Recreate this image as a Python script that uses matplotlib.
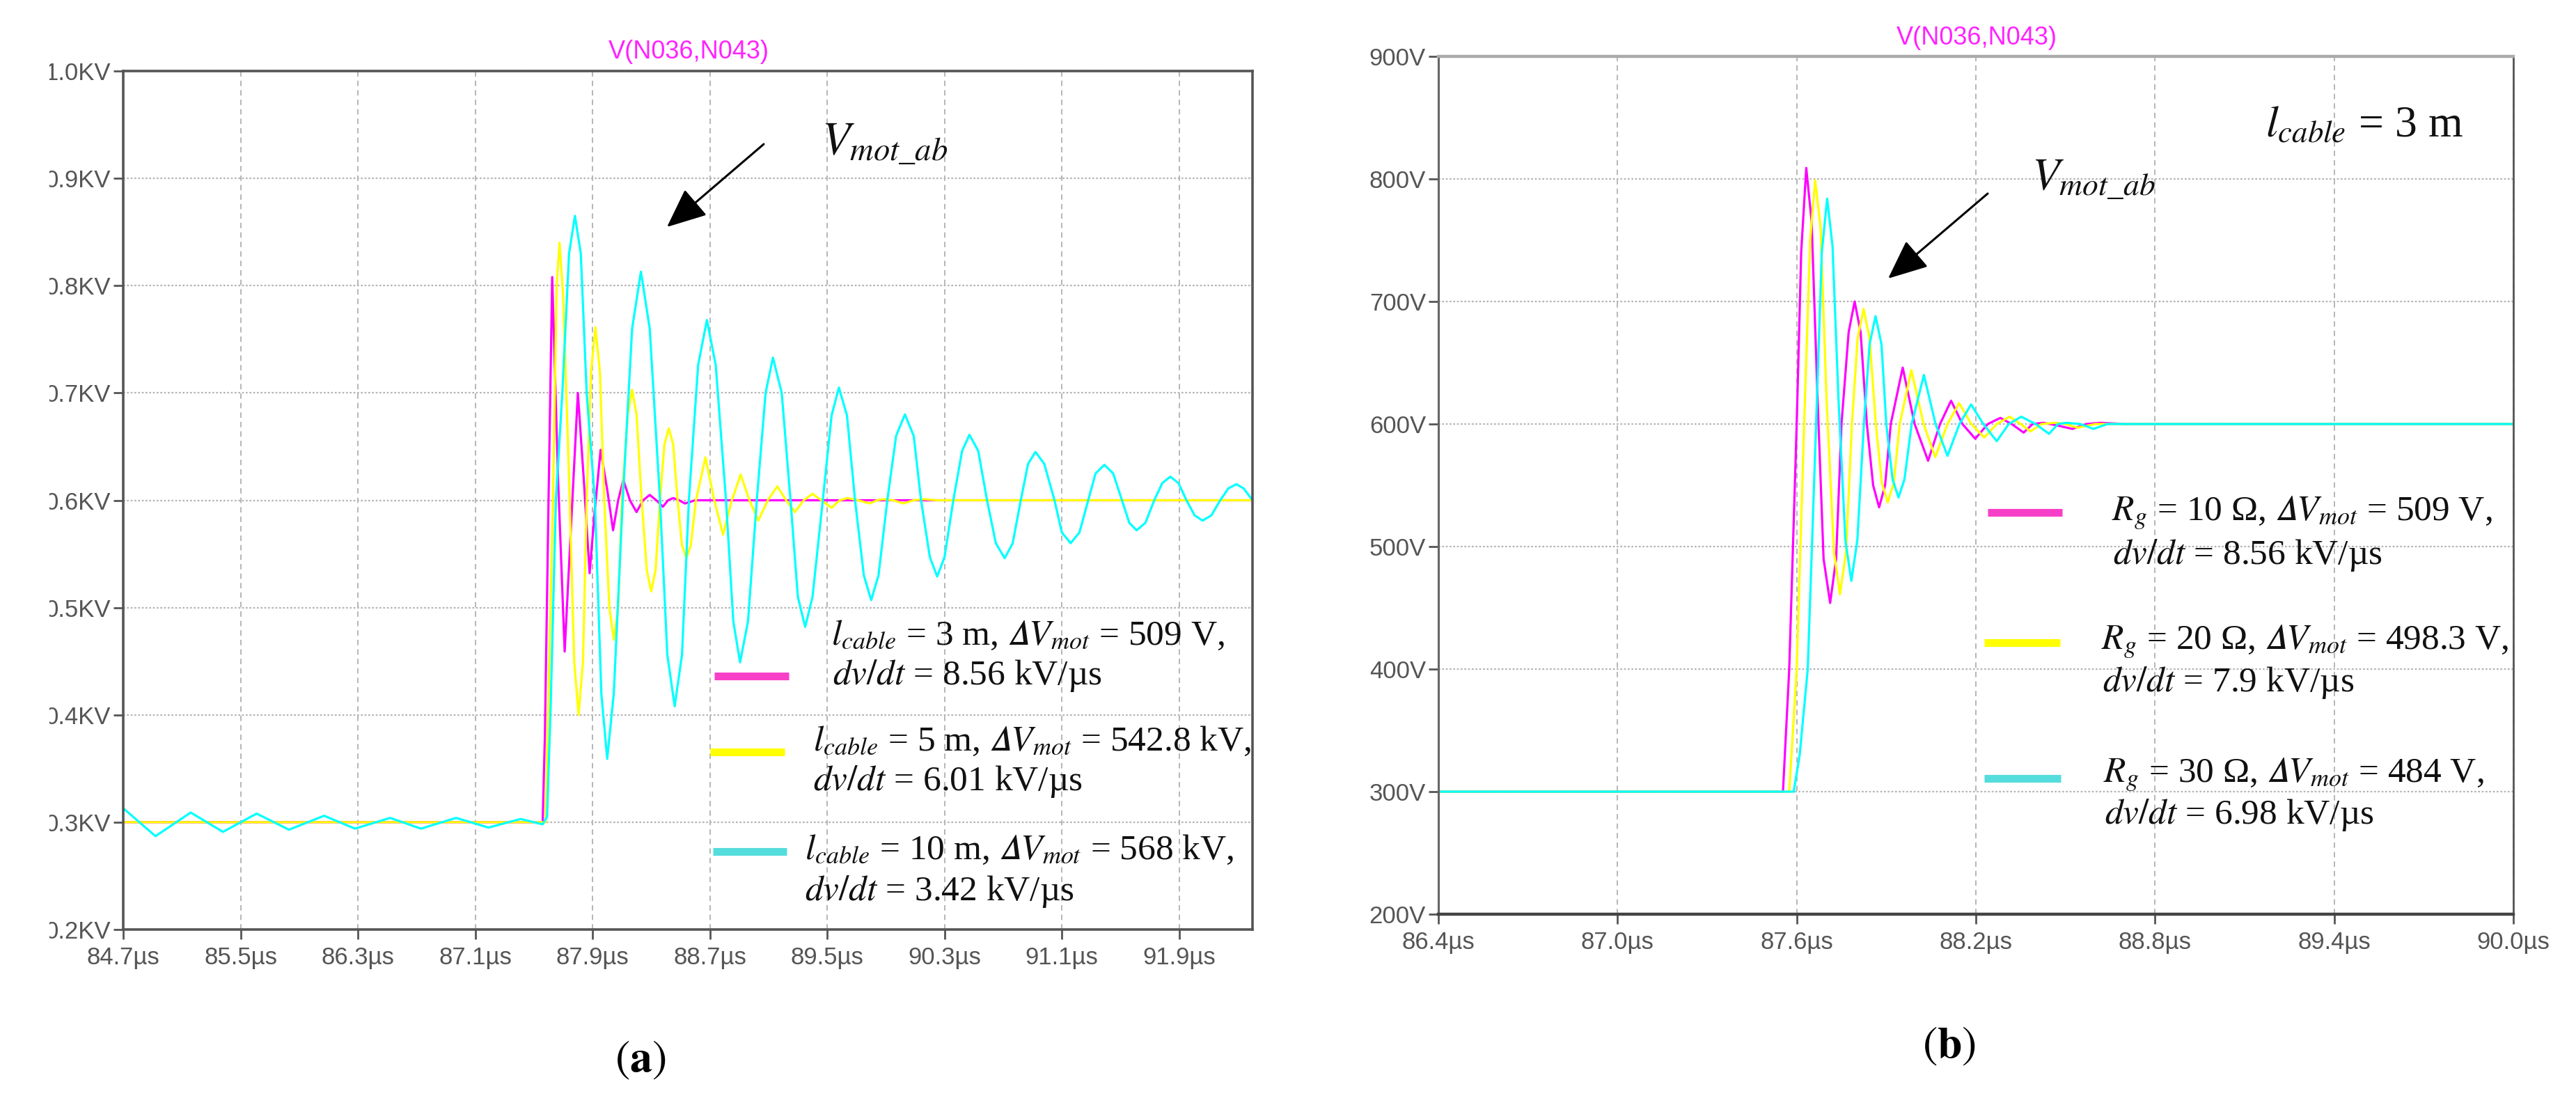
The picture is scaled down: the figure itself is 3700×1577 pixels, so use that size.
import matplotlib.pyplot as plt
from matplotlib.lines import Line2D
from matplotlib.transforms import Bbox

W, H = 3700, 1577

# ---------------- panel (a): cable length sweep (time in us, voltage in kV)
t_a_3m = [84.70, 87.56, 87.575, 87.60, 87.625, 87.665, 87.71, 87.755, 87.80, 87.84,
          87.88, 87.915, 87.955, 88.00, 88.04, 88.075, 88.11, 88.155, 88.20, 88.245,
          88.29, 88.335, 88.38, 88.415, 88.45, 88.49, 88.53, 88.60, 92.40]
v_a_3m = [0.300, 0.300, 0.380, 0.600, 0.808, 0.620, 0.459, 0.580, 0.700, 0.620,
          0.532, 0.590, 0.647, 0.610, 0.572, 0.600, 0.619, 0.600, 0.589, 0.600,
          0.605, 0.600, 0.594, 0.600, 0.602, 0.600, 0.597, 0.600, 0.600]

t_a_5m = [84.70, 87.58, 87.63, 87.655, 87.675, 87.70, 87.74, 87.775, 87.805, 87.835,
          87.86, 87.89, 87.92, 87.95, 87.98, 88.015, 88.045, 88.075, 88.10, 88.14,
          88.17, 88.20, 88.235, 88.27, 88.30, 88.33, 88.36, 88.39, 88.42, 88.45,
          88.48, 88.51, 88.54, 88.57, 88.605, 88.67, 88.73, 88.79, 88.85, 88.91,
          88.97, 89.03, 89.095, 89.16, 89.22, 89.28, 89.34, 89.40, 89.46, 89.53,
          89.585, 89.64, 89.71, 89.79, 89.84, 89.88, 89.95, 90.02, 90.09, 90.16,
          90.25, 92.40]
v_a_5m = [0.300, 0.300, 0.600, 0.800, 0.840, 0.790, 0.620, 0.450, 0.400, 0.450,
          0.600, 0.720, 0.761, 0.720, 0.600, 0.500, 0.470, 0.500, 0.600, 0.680,
          0.703, 0.680, 0.600, 0.535, 0.515, 0.535, 0.600, 0.652, 0.667, 0.652,
          0.600, 0.558, 0.546, 0.558, 0.600, 0.640, 0.600, 0.568, 0.600, 0.624,
          0.600, 0.581, 0.600, 0.613, 0.600, 0.589, 0.600, 0.606, 0.600, 0.593,
          0.600, 0.602, 0.600, 0.597, 0.600, 0.601, 0.600, 0.597, 0.600, 0.601,
          0.600, 0.600]

t_a_10m = [84.70, 84.92, 85.16, 85.38, 85.61, 85.83, 86.07, 86.28, 86.52, 86.73,
           86.97, 87.19, 87.41, 87.56, 87.59, 87.615, 87.65, 87.694, 87.74, 87.78,
           87.82, 87.86, 87.916, 87.96, 88.00, 88.045, 88.106, 88.17, 88.23, 88.29,
           88.36, 88.41, 88.46, 88.51, 88.557, 88.62, 88.68, 88.74, 88.81, 88.86,
           88.906, 88.96, 89.02, 89.08, 89.13, 89.19, 89.25, 89.30, 89.35, 89.40,
           89.47, 89.53, 89.58, 89.635, 89.69, 89.75, 89.80, 89.85, 89.91, 89.97,
           90.03, 90.09, 90.14, 90.20, 90.25, 90.30, 90.36, 90.42, 90.47, 90.53,
           90.59, 90.65, 90.71, 90.765, 90.82, 90.87, 90.92, 90.98, 91.05, 91.10,
           91.16, 91.22, 91.28, 91.33, 91.39, 91.45, 91.51, 91.56, 91.61, 91.67,
           91.73, 91.785, 91.84, 91.895, 91.95, 92.005, 92.06, 92.12, 92.18, 92.235,
           92.29, 92.34, 92.40]
v_a_10m = [0.313, 0.287, 0.309, 0.291, 0.308, 0.293, 0.306, 0.294, 0.304, 0.294,
           0.304, 0.295, 0.303, 0.298, 0.305, 0.410, 0.600, 0.700, 0.830, 0.865,
           0.830, 0.700, 0.600, 0.420, 0.359, 0.420, 0.600, 0.760, 0.813, 0.760,
           0.600, 0.456, 0.408, 0.456, 0.600, 0.726, 0.768, 0.726, 0.600, 0.487,
           0.449, 0.487, 0.600, 0.700, 0.733, 0.700, 0.600, 0.510, 0.482, 0.510,
           0.600, 0.679, 0.705, 0.679, 0.600, 0.530, 0.507, 0.530, 0.600, 0.660,
           0.680, 0.660, 0.600, 0.547, 0.529, 0.547, 0.600, 0.646, 0.661, 0.646,
           0.600, 0.560, 0.546, 0.560, 0.600, 0.634, 0.645, 0.634, 0.600, 0.570,
           0.560, 0.570, 0.600, 0.625, 0.633, 0.625, 0.600, 0.579, 0.572, 0.579,
           0.600, 0.616, 0.622, 0.616, 0.600, 0.586, 0.581, 0.586, 0.600, 0.611,
           0.615, 0.611, 0.600]

xticks_a = [84.7, 85.5, 86.3, 87.1, 87.9, 88.7, 89.5, 90.3, 91.1, 91.9]
yticks_a = [0.2, 0.3, 0.4, 0.5, 0.6, 0.7, 0.8, 0.9, 1.0]

labels_a = [[r'$l_{cable}$ = 3 m, $𝛥V_{mot}$ = 509 V,', r'$dv/dt$ = 8.56 kV/µs'],
            [r'$l_{cable}$ = 5 m, $𝛥V_{mot}$ = 542.8 kV,', r'$dv/dt$ = 6.01 kV/µs'],
            [r'$l_{cable}$ = 10 m, $𝛥V_{mot}$ = 568 kV,', r'$dv/dt$ = 3.42 kV/µs']]

# ---------------- panel (b): gate resistor sweep (time in us, voltage in V)
t_b_10 = [86.40, 87.554, 87.575, 87.60, 87.615, 87.632, 87.65, 87.67, 87.69, 87.712,
          87.732, 87.75, 87.774, 87.794, 87.814, 87.835, 87.856, 87.876, 87.896, 87.915,
          87.955, 87.995, 88.04, 88.08, 88.117, 88.155, 88.198, 88.24, 88.282, 88.32,
          88.36, 88.39, 88.426, 88.47, 88.523, 88.57, 88.617, 88.70, 90.00]
v_b_10 = [300, 300, 400, 600, 740, 809, 765, 620, 490, 454,
          490, 600, 675, 700, 675, 600, 550, 532, 550, 600,
          646, 600, 570, 600, 619, 600, 588, 600, 605, 600,
          593, 600, 601, 599, 596, 600, 601, 600, 600]

t_b_20 = [86.40, 87.575, 87.60, 87.625, 87.645, 87.662, 87.68, 87.70, 87.725, 87.745,
          87.765, 87.785, 87.804, 87.824, 87.844, 87.865, 87.885, 87.905, 87.925, 87.945,
          87.984, 88.025, 88.064, 88.105, 88.144, 88.185, 88.228, 88.27, 88.313, 88.35,
          88.383, 88.42, 88.465, 88.50, 88.54, 88.60, 90.00]
v_b_20 = [300, 300, 400, 600, 750, 799, 760, 620, 495, 461,
          495, 600, 670, 694, 670, 600, 552, 536, 552, 600,
          644, 600, 573, 600, 617, 600, 589, 600, 606, 600,
          594, 600, 601, 600, 597, 600, 600]

t_b_30 = [86.40, 87.59, 87.61, 87.637, 87.665, 87.684, 87.702, 87.72, 87.74, 87.763,
          87.783, 87.803, 87.825, 87.844, 87.864, 87.884, 87.90, 87.921, 87.941, 87.961,
          87.985, 88.026, 88.065, 88.105, 88.145, 88.184, 88.225, 88.27, 88.31, 88.352,
          88.40, 88.445, 88.475, 88.504, 88.55, 88.594, 88.64, 88.68, 90.00]
v_b_30 = [300, 300, 330, 400, 600, 740, 784, 745, 620, 505,
          472, 505, 600, 665, 688, 665, 600, 555, 540, 555,
          600, 640, 600, 574, 600, 616, 600, 586, 600, 606,
          600, 592, 600, 601, 600, 596, 600, 600, 600]

xticks_b = [86.4, 87.0, 87.6, 88.2, 88.8, 89.4, 90.0]
yticks_b = [200, 300, 400, 500, 600, 700, 800, 900]

labels_b = [[r'$R_g$ = 10 Ω, $𝛥V_{mot}$ = 509 V,', r'$dv/dt$ = 8.56 kV/µs'],
            [r'$R_g$ = 20 Ω, $𝛥V_{mot}$ = 498.3 V,', r'$dv/dt$ = 7.9 kV/µs'],
            [r'$R_g$ = 30 Ω, $𝛥V_{mot}$ = 484 V,', r'$dv/dt$ = 6.98 kV/µs']]

trace_colors = ['#ff00ff', '#ffff00', '#00ffff']
swatch_colors = ['#f83fc8', '#ffff00', '#55dcdc']

plt.rcParams['mathtext.fontset'] = 'stix'


def fp(x, y):
    # pixel position (from top left) -> figure fraction
    return x / W, 1 - y / H


def style_axes(ax, xt, xl, yt, yl):
    ax.set_xticks(xt)
    ax.set_xticklabels(xl)
    ax.set_yticks(yt)
    ax.set_yticklabels(yl)
    ax.tick_params(axis='both', length=10, width=2, color='#555555',
                   labelsize=25, labelcolor='#555555')
    ax.tick_params(axis='x', pad=7)
    ax.tick_params(axis='y', pad=3)
    for lab in ax.get_xticklabels() + ax.get_yticklabels():
        lab.set_family('Liberation Sans')
    ax.grid(axis='x', color='#b5b5b5', lw=1.4, ls=(0, (4, 3)))
    ax.grid(axis='y', color='#b5b5b5', lw=1.6, ls=(0, (1.2, 1.2)))
    ax.set_axisbelow(True)


fig = plt.figure(figsize=(W / 100, H / 100), dpi=100)

# ---------------- (a)
ax_a = fig.add_axes([177 / W, 1 - 1335 / H, (1799 - 177) / W, (1335 - 102) / H])
for t, v, c in zip([t_a_3m, t_a_5m, t_a_10m], [v_a_3m, v_a_5m, v_a_10m], trace_colors):
    ax_a.plot(t, v, color=c, lw=2.3, solid_joinstyle='round')
ax_a.set_xlim(84.7, 92.4)
ax_a.set_ylim(0.2, 1.0)
style_axes(ax_a, xticks_a, ['%.1fµs' % x for x in xticks_a],
           yticks_a, ['%.1fKV' % y for y in yticks_a])
for s in ax_a.spines.values():
    s.set_color('#555555')
    s.set_linewidth(2.6)

# ---------------- (b)
ax_b = fig.add_axes([2066 / W, 1 - 1313 / H, (3610 - 2066) / W, (1313 - 81) / H])
for t, v, c in zip([t_b_10, t_b_20, t_b_30], [v_b_10, v_b_20, v_b_30], trace_colors):
    ax_b.plot(t, v, color=c, lw=2.3, solid_joinstyle='round')
ax_b.set_xlim(86.4, 90.0)
ax_b.set_ylim(200, 900)
style_axes(ax_b, xticks_b, ['%.1fµs' % x for x in xticks_b],
           yticks_b, ['%dV' % y for y in yticks_b])
ax_b.spines['left'].set_color('#666666')
ax_b.spines['left'].set_linewidth(2.2)
ax_b.spines['bottom'].set_color('#444444')
ax_b.spines['bottom'].set_linewidth(3.2)
ax_b.spines['top'].set_color('#aaaaaa')
ax_b.spines['top'].set_linewidth(3.2)
ax_b.spines['right'].set_color('#555555')
ax_b.spines['right'].set_linewidth(2.0)

# ---------------- titles (LTspice trace name)
fig.text(*fp(989, 74), 'V(N036,N043)', color='#ff22ff', fontsize=26,
         family='Liberation Sans', ha='center', va='center')
fig.text(*fp(2839, 55), 'V(N036,N043)', color='#ff22ff', fontsize=26,
         family='Liberation Sans', ha='center', va='center')

# ---------------- hand-made legends
txt_kw = dict(fontsize=37, family='Liberation Serif', color='#111111',
              ha='left', va='center')
swatch_a = [(1026, 1133, 971), (1020, 1127, 1080), (1024, 1130, 1223)]
text_a = [((1194, 913), (1196, 970)), ((1168, 1065), (1168, 1122)),
          ((1156, 1221), (1156, 1281))]
swatch_b = [(2855, 2962, 736), (2850, 2959, 923), (2850, 2960, 1118)]
text_b = [((3033, 737), (3035, 798)), ((3018, 922), (3020, 981)),
          ((3021, 1113), (3023, 1171))]

for swatches, texts, labels in [(swatch_a, text_a, labels_a), (swatch_b, text_b, labels_b)]:
    for (x0, x1, y), (p1, p2), lab, c in zip(swatches, texts, labels, swatch_colors):
        fig.add_artist(Line2D([x0 / W, x1 / W], [1 - y / H, 1 - y / H],
                              color=c, lw=8, solid_capstyle='butt'))
        fig.text(*fp(*p1), lab[0], **txt_kw)
        fig.text(*fp(*p2), lab[1], **txt_kw)

# ---------------- V_mot_ab markers and arrows
fig.text(*fp(1180, 222), r'$V_{mot\_ab}$', fontsize=48, color='#111111',
         ha='left', va='baseline')
fig.text(*fp(2918, 273), r'$V_{mot\_ab}$', fontsize=47, color='#111111',
         ha='left', va='baseline')
fig.text(*fp(3254, 196), r'$l_{cable}$ = 3 m', fontsize=46, color='#111111',
         family='Liberation Serif', ha='left', va='baseline')

arrow_kw = dict(arrowstyle='-|>,head_length=1.6,head_width=0.7', color='black',
                lw=2.2, mutation_scale=22, shrinkA=0, shrinkB=0)
ax_a.annotate('', xy=fp(958, 326), xycoords='figure fraction',
              xytext=fp(1097, 207), textcoords='figure fraction', arrowprops=arrow_kw)
ax_b.annotate('', xy=fp(2712, 400), xycoords='figure fraction',
              xytext=fp(2855, 278), textcoords='figure fraction', arrowprops=arrow_kw)

# ---------------- sub-figure captions
fig.text(*fp(920, 1522), r'$(\mathbf{a})$', fontsize=46, color='black',
         ha='center', va='center')
fig.text(*fp(2800, 1502), r'$(\mathbf{b})$', fontsize=46, color='black',
         ha='center', va='center')

# the screenshot in (a) was cropped on its left: cut the y labels the same way
fig.canvas.draw()
ext = ax_a.get_yticklabels()[-1].get_window_extent()
clip = Bbox.from_extents(ext.x0 + 7, 0, W, H)
for lab in ax_a.get_yticklabels():
    lab.set_clip_box(clip)
    lab.set_clip_on(True)

fig.savefig('out.png', dpi=100)
